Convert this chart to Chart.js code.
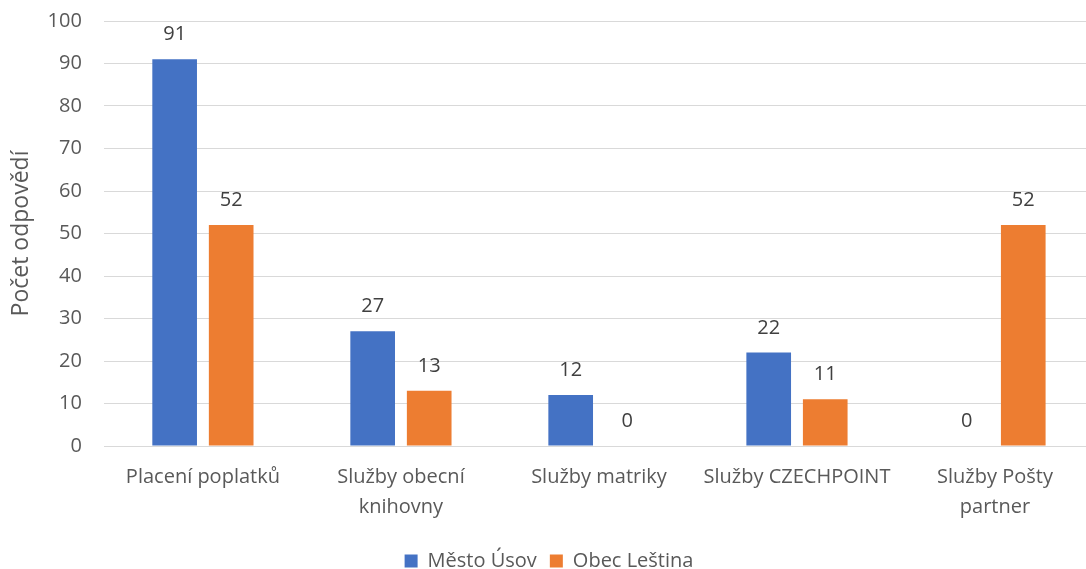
<!DOCTYPE html>
<html>
<head>
<meta charset="utf-8">
<script src="https://cdn.jsdelivr.net/npm/chart.js@4/dist/chart.umd.min.js"></script>
<style>
  html, body { margin: 0; padding: 0; background: #fff; overflow: hidden; }
  #wrap { width: 1094px; height: 581px; position: relative; }
</style>
</head>
<body>
<div id="wrap"><canvas id="c"></canvas></div>
<script>
const categories = [
  "Placení poplatků",
  ["Služby obecní", "knihovny"],
  "Služby matriky",
  "Služby CZECHPOINT",
  ["Služby Pošty", "partner"]
];
const seriesNames = ["Město Úsov", "Obec Leština"];
const mestoUsov = [91, 27, 12, 22, 0];
const obecLestina = [52, 13, 0, 11, 52];
const yTicks = [0, 10, 20, 30, 40, 50, 60, 70, 80, 90, 100];

const FONT = "'Open Sans', 'Noto Sans', sans-serif";

const valueLabels = {
  id: 'valueLabels',
  afterDatasetsDraw(chart) {
    const ctx = chart.ctx;
    ctx.save();
    ctx.font = "20px " + FONT;
    ctx.fillStyle = '#404040';
    ctx.textAlign = 'center';
    ctx.textBaseline = 'middle';
    chart.data.datasets.forEach((ds, i) => {
      const meta = chart.getDatasetMeta(i);
      meta.data.forEach((bar, j) => {
        ctx.fillText(String(ds.data[j]), bar.x, bar.y - 24.5);
      });
    });
    ctx.restore();
  }
};

new Chart(document.getElementById('c'), {
  type: 'bar',
  data: {
    labels: categories,
    datasets: [
      { label: seriesNames[0], data: mestoUsov, backgroundColor: '#4472C4',
        categoryPercentage: 0.571, barPercentage: 0.79 },
      { label: seriesNames[1], data: obecLestina, backgroundColor: '#ED7D31',
        categoryPercentage: 0.571, barPercentage: 0.79 }
    ]
  },
  options: {
    responsive: true,
    maintainAspectRatio: false,
    animation: false,
    layout: { padding: { top: 21, left: 4, right: 0, bottom: 0 } },
    plugins: {
      legend: {
        position: 'bottom',
        labels: {
          boxWidth: 13, boxHeight: 13, padding: 13,
          color: '#595959',
          font: { family: FONT, size: 20 }
        }
      },
      tooltip: { enabled: false }
    },
    scales: {
      x: {
        grid: { display: false, drawTicks: false },
        border: { display: false },
        ticks: {
          color: '#595959',
          font: { family: FONT, size: 20, lineHeight: 1.5 },
          maxRotation: 0, autoSkip: false, padding: 16
        }
      },
      y: {
        min: 0, max: 100,
        afterBuildTicks(axis) { axis.ticks = yTicks.map(v => ({ value: v })); },
        grid: { color: '#D9D9D9', lineWidth: 1, drawTicks: true, tickLength: 18, tickColor: 'rgba(0,0,0,0)' },
        border: { display: false },
        ticks: {
          color: '#595959',
          font: { family: FONT, size: 20 },
          padding: 4
        },
        title: {
          display: true,
          text: 'Počet odpovědí',
          color: '#595959',
          font: { family: FONT, size: 23 },
          padding: { top: 4, bottom: 8 }
        }
      }
    }
  },
  plugins: [valueLabels]
});
</script>
</body>
</html>
